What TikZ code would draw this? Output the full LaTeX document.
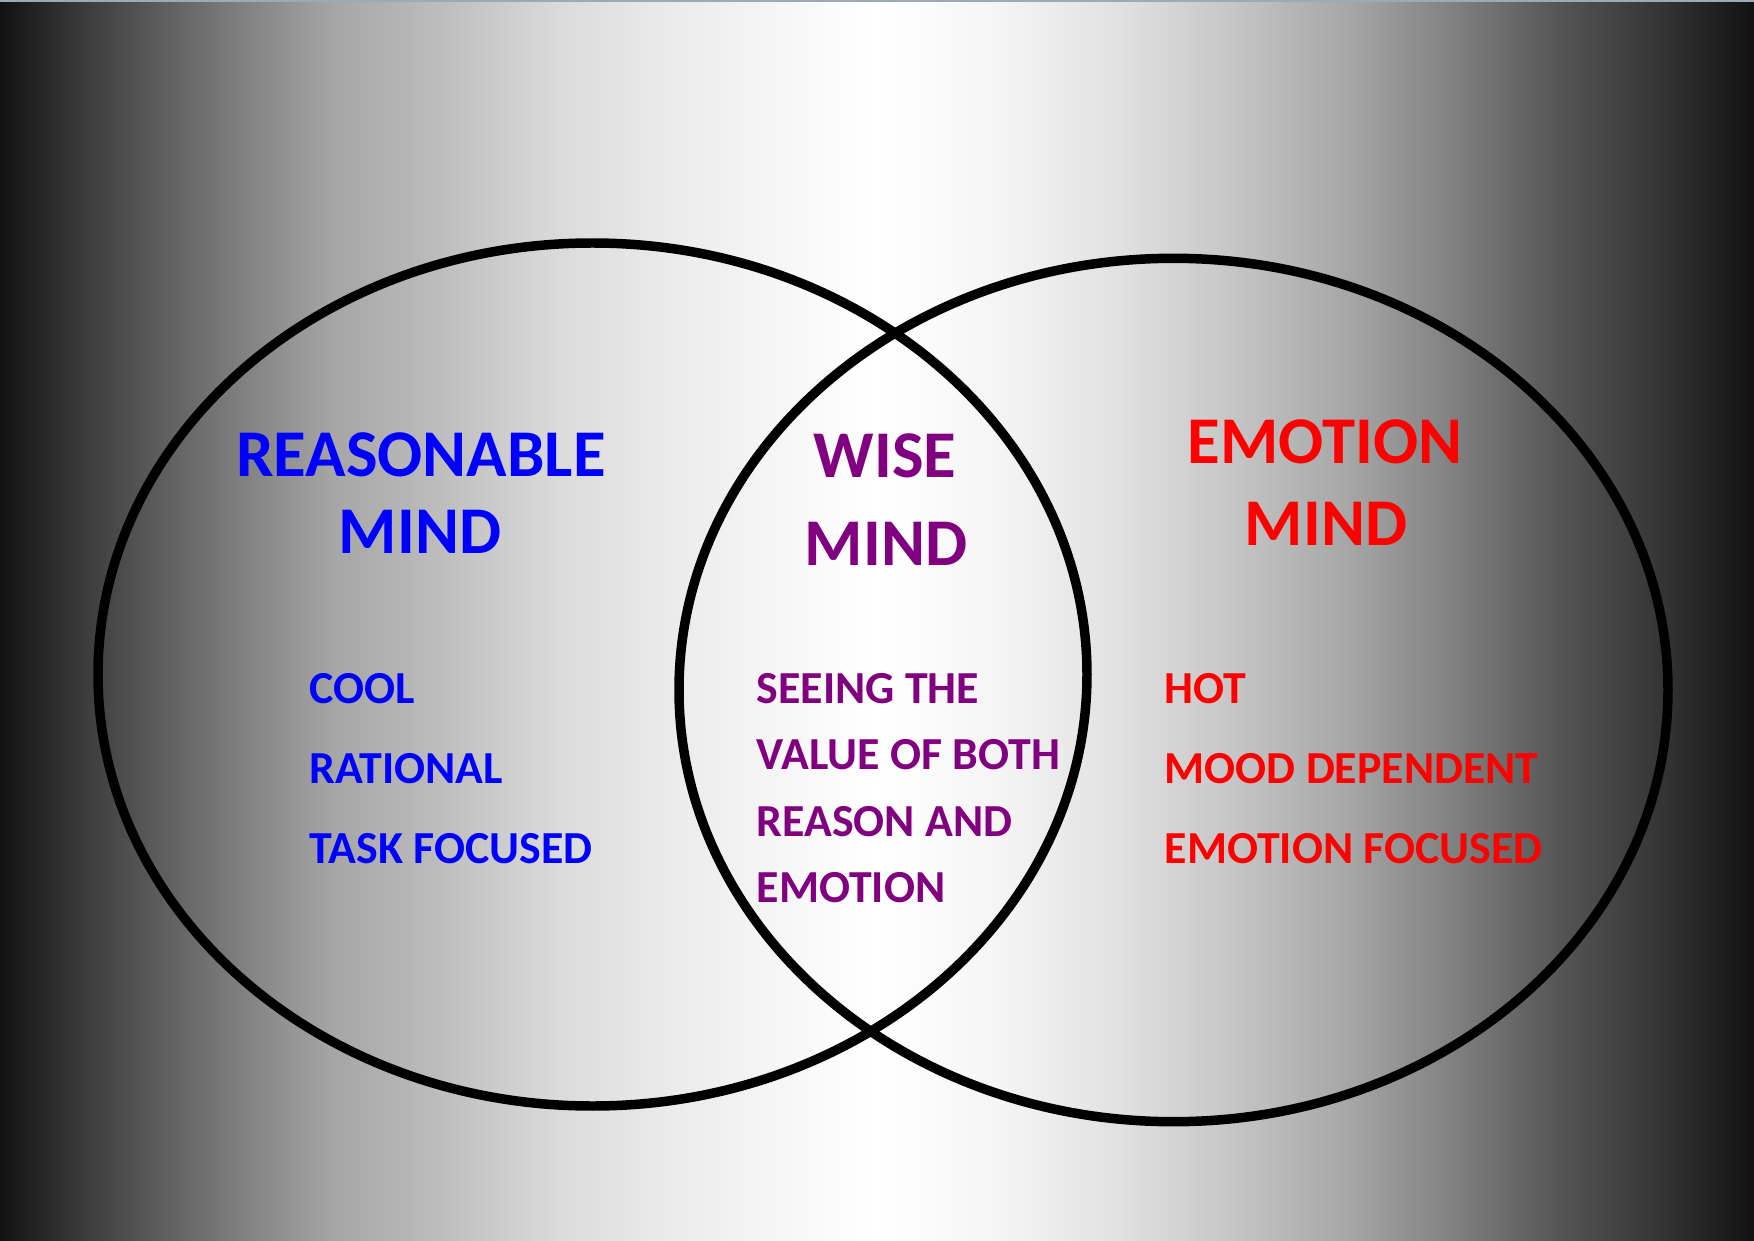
\documentclass[tikz,border=0pt]{standalone}
\usepackage{fontspec}
\setmainfont{Carlito}
\definecolor{reasblue}{RGB}{0,0,255}
\definecolor{wisepurple}{RGB}{128,0,128}
\definecolor{emored}{RGB}{255,0,0}
\definecolor{topedge}{RGB}{160,168,184}
\pgfdeclarehorizontalshading{bgshade}{100bp}{color(0bp)=(black!93); color(25bp)=(black!93); color(27.5bp)=(black!76);
 color(31.5bp)=(black!52); color(34.5bp)=(black!35); color(37.5bp)=(black!26); color(41bp)=(black!14); color(44bp)=(black!8);
 color(47.5bp)=(black!3); color(50bp)=(white); color(53.5bp)=(black!4); color(57bp)=(black!12); color(60bp)=(black!22);
 color(63.5bp)=(black!35); color(66.5bp)=(black!50); color(69.5bp)=(black!67); color(72.5bp)=(black!80); color(75bp)=(black!93);
 color(100bp)=(black!93)}
\tikzset{ring/.style={line width=2.7pt},title/.style={anchor=base,inner sep=0pt,font=\bfseries\fontsize{19}{23}\selectfont},
 item/.style={anchor=base west,inner sep=0pt,font=\bfseries\fontsize{13.05}{16}\selectfont}}
\begin{document}
\begin{tikzpicture}
\shade[shading=bgshade] (0,0) rectangle (17.54,12.40);\useasboundingbox (0,0) rectangle (17.54,12.40);
\draw[topedge,line width=.6pt] (0,12.39)--(17.54,12.39);
\draw[ring] (5.925,5.655) ellipse [x radius=4.945,y radius=4.315];
\draw[ring] (11.735,5.50) ellipse [x radius=4.945,y radius=4.317];
% reasonable mind
\node[title,text=reasblue] (reason) at (4.21,7.64){REASONABLE};\node[title,text=reasblue] (reasonmind) at (4.20,6.87){MIND};
\node[item,text=reasblue] (cool) at (3.09,5.37){COOL};\node[item,text=reasblue] (rational) at (3.09,4.57){RATIONAL};
\node[item,text=reasblue] (task) at (3.09,3.77){TASK FOCUSED};
% wise mind
\node[title,text=wisepurple] (wise) at (8.85,7.63){WISE};\node[title,text=wisepurple] (wisemind) at (8.86,6.75){MIND};
\node[item,text=wisepurple] (seeing) at (7.56,5.37){SEEING THE};\node[item,text=wisepurple] (value) at (7.56,4.71){VALUE OF BOTH};
\node[item,text=wisepurple] (reasonand) at (7.56,4.04){REASON AND};\node[item,text=wisepurple] (emotionw) at (7.56,3.38){EMOTION};
% emotion mind
\node[title,text=emored] (emotion) at (13.25,7.77){EMOTION};\node[title,text=emored] (emotionmind) at (13.26,6.95){MIND};
\node[item,text=emored] (hot) at (11.64,5.37){HOT};\node[item,text=emored] (mood) at (11.64,4.57){MOOD DEPENDENT};
\node[item,text=emored] (emofocus) at (11.64,3.77){EMOTION FOCUSED};
\end{tikzpicture}
\end{document}
